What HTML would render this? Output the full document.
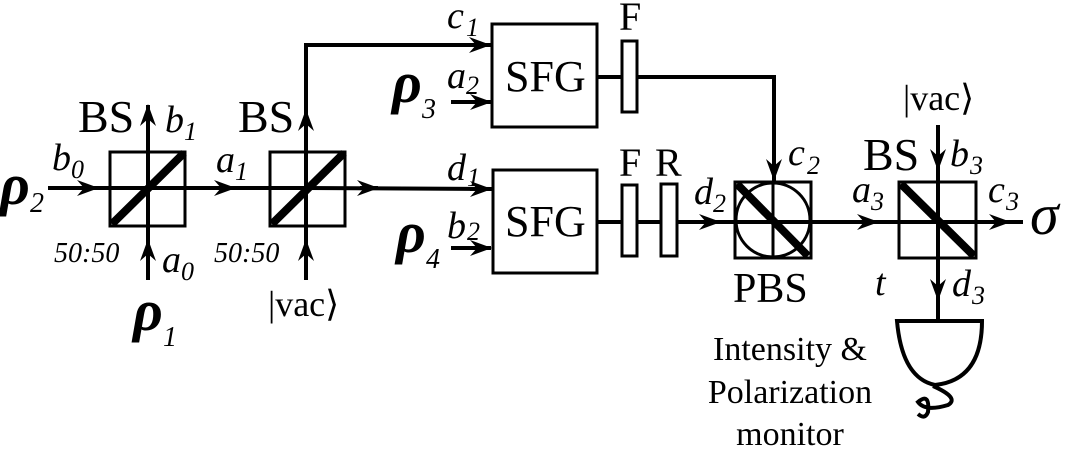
<!DOCTYPE html>
<html><head><meta charset="utf-8"><style>body{margin:0;background:#fff}svg{display:block}</style></head><body>
<svg width="1076" height="451" viewBox="0 0 1076 451" xmlns="http://www.w3.org/2000/svg" font-family="'Liberation Serif',serif">
<defs><marker id="ar" markerWidth="24" markerHeight="16" refX="21" refY="8" orient="auto" markerUnits="userSpaceOnUse"><path d="M0,0 L22,8 L0,16 L7,8 Z" fill="#000"/></marker></defs>
<g stroke="#000" stroke-width="4" fill="none">
<rect x="110" y="152" width="75" height="74" stroke-width="3"/>
<line x1="48" y1="188" x2="98" y2="188" marker-end="url(#ar)"/><line x1="95" y1="188" x2="306" y2="188"/>
<line x1="215" y1="188" x2="235" y2="188" marker-end="url(#ar)"/>
<line x1="148" y1="280" x2="148" y2="240" marker-end="url(#ar)"/><line x1="148" y1="245" x2="148" y2="120"/>
<line x1="148" y1="125" x2="148" y2="105" marker-end="url(#ar)"/>
<line x1="112" y1="224" x2="184" y2="153" stroke-width="8"/>
<rect x="270" y="152" width="75" height="74" stroke-width="3"/>
<line x1="306" y1="188" x2="493" y2="189"/>
<line x1="360" y1="188" x2="378" y2="188" marker-end="url(#ar)"/>
<line x1="470" y1="189" x2="491" y2="189" marker-end="url(#ar)"/>
<line x1="306" y1="280" x2="306" y2="240" marker-end="url(#ar)"/><line x1="306" y1="245" x2="306" y2="45"/>
<line x1="306" y1="130" x2="306" y2="110" marker-end="url(#ar)"/>
<line x1="304" y1="45" x2="491" y2="45"/><line x1="470" y1="45" x2="490" y2="45" marker-end="url(#ar)"/>
<line x1="272" y1="224" x2="344" y2="153" stroke-width="8"/>
<rect x="492" y="24" width="105" height="103" stroke-width="3"/>
<rect x="493" y="170" width="104" height="103" stroke-width="3"/>
<line x1="451" y1="102" x2="491" y2="102" marker-end="url(#ar)"/>
<line x1="451" y1="248" x2="491" y2="248" marker-end="url(#ar)"/>
<line x1="597" y1="77" x2="774" y2="77"/>
<line x1="774" y1="75" x2="774" y2="182"/><line x1="774" y1="150" x2="774" y2="180" marker-end="url(#ar)"/>
<rect x="622" y="41" width="15" height="71" fill="#fff" stroke-width="3"/>
<line x1="597" y1="222" x2="1023" y2="222"/>
<rect x="622" y="185" width="15" height="71" fill="#fff" stroke-width="3"/>
<rect x="661" y="184" width="16" height="72" fill="#fff" stroke-width="3"/>
<line x1="700" y1="222" x2="720" y2="222" marker-end="url(#ar)"/>
<line x1="855" y1="222" x2="878" y2="222" marker-end="url(#ar)"/>
<line x1="985" y1="222" x2="1010" y2="222" marker-end="url(#ar)"/>
<rect x="735" y="182" width="76" height="76" stroke-width="3"/>
<circle cx="773" cy="220" r="37" stroke-width="3"/>
<line x1="773" y1="182" x2="773" y2="258" stroke-width="3"/>
<line x1="737" y1="184" x2="808" y2="256" stroke-width="8"/>
<rect x="899" y="182" width="77" height="76" stroke-width="3"/>
<line x1="938" y1="125" x2="938" y2="320"/>
<line x1="938" y1="140" x2="938" y2="170" marker-end="url(#ar)"/>
<line x1="938" y1="270" x2="938" y2="300" marker-end="url(#ar)"/>
<line x1="901" y1="184" x2="974" y2="256" stroke-width="8"/>
<path d="M897,321 L982,321 Q982,380 935,385 Q902,378 897,321 Z" stroke-width="4"/>
<path d="M933,386 Q960,398 948,405 Q925,412 918,402 Q930,392 928,412 Q925,420 918,414" stroke-width="4"/>
</g>
<g fill="#000">
<g font-size="46"><text x="78" y="132">BS</text><text x="238" y="132">BS</text><text x="863" y="170">BS</text></g>
<g font-style="italic" font-weight="bold">
<text x="0" y="204" font-size="58">ρ</text><text x="30" y="212" font-size="28" font-weight="normal">2</text>
<text x="133" y="330" font-size="58">ρ</text><text x="163" y="346" font-size="28" font-weight="normal">1</text>
<text x="392" y="102" font-size="58">ρ</text><text x="422" y="118" font-size="28" font-weight="normal">3</text>
<text x="396" y="252" font-size="58">ρ</text><text x="426" y="268" font-size="28" font-weight="normal">4</text>
<text x="1030" y="234" font-size="58" font-weight="normal">σ</text>
</g>
<g font-style="italic" font-size="38">
<text x="165" y="132">b</text><text x="184" y="140" font-size="26">1</text>
<text x="52" y="170">b</text><text x="71" y="178" font-size="26">0</text>
<text x="216" y="172">a</text><text x="235" y="180" font-size="26">1</text>
<text x="162" y="272">a</text><text x="181" y="280" font-size="26">0</text>
<text x="447" y="28">c</text><text x="466" y="36" font-size="26">1</text>
<text x="447" y="88">a</text><text x="466" y="94" font-size="26">2</text>
<text x="447" y="180">d</text><text x="467" y="186" font-size="26">1</text>
<text x="447" y="238">b</text><text x="467" y="240" font-size="26">2</text>
<text x="694" y="204">d</text><text x="713" y="212" font-size="26">2</text>
<text x="788" y="165">c</text><text x="807" y="174" font-size="26">2</text>
<text x="852" y="202">a</text><text x="871" y="210" font-size="26">3</text>
<text x="988" y="202">c</text><text x="1006" y="210" font-size="26">3</text>
<text x="950" y="166">b</text><text x="970" y="174" font-size="26">3</text>
<text x="952" y="296">d</text><text x="972" y="304" font-size="26">3</text>
<text x="875" y="295">t</text>
</g>
<text x="54" y="262" font-style="italic" font-size="28">50:50</text>
<text x="214" y="262" font-style="italic" font-size="28">50:50</text>
<text x="268" y="316" font-size="36">|vac⟩</text>
<text x="903" y="110" font-size="36">|vac⟩</text>
<text x="619" y="30" font-size="40">F</text>
<text x="619" y="176" font-size="40">F</text><text x="655" y="176" font-size="40">R</text>
<text x="505" y="91" font-size="44">SFG</text><text x="505" y="236" font-size="44">SFG</text>
<text x="733" y="302" font-size="42">PBS</text>
<g font-size="34" text-anchor="middle"><text x="790" y="360">Intensity &amp;</text><text x="790" y="403">Polarization</text><text x="790" y="445">monitor</text></g>
</g>
</svg>
</body></html>
